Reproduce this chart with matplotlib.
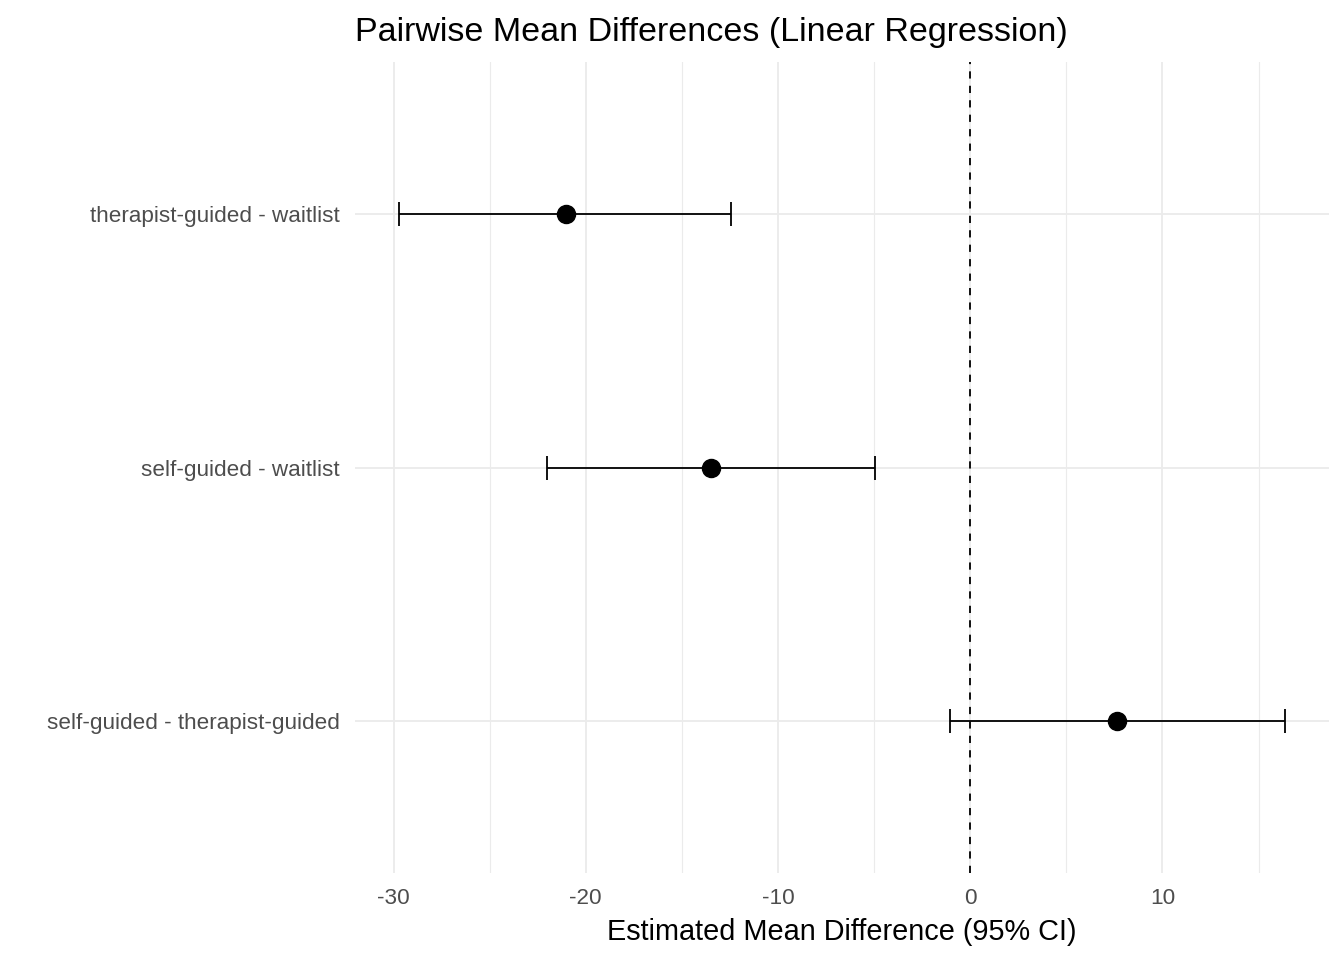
import matplotlib.pyplot as plt
import numpy as np

plt.rcParams['font.family'] = ['Liberation Sans', 'DejaVu Sans']

# comparisons, from bottom to top
contrasts = ['self-guided - therapist-guided', 'self-guided - waitlist', 'therapist-guided - waitlist']
estimate = [7.64, -13.51, -21.04]
ci_low = [-1.04, -22.03, -29.70]
ci_high = [16.36, -4.94, -12.42]

est = np.array(estimate)
lo = np.array(ci_low)
hi = np.array(ci_high)
ypos = np.arange(1, len(contrasts) + 1)

fig = plt.figure(figsize=(13.44, 9.6), dpi=100)
ax = fig.add_axes([355 / 1344, 1 - 873 / 960, (1329 - 355) / 1344, (873 - 62) / 960])

# ggplot-like limits with 5% / 0.6 expansion
xmin, xmax = lo.min(), hi.max()
pad = (xmax - xmin) * 0.05
ax.set_xlim(xmin - pad, xmax + pad)
ax.set_ylim(0.4, len(contrasts) + 0.6)

# grid like theme_minimal
for v in [-25, -15, -5, 5, 15]:
    ax.axvline(v, color='#EBEBEB', lw=0.8, zorder=0)
for v in [-30, -20, -10, 0, 10]:
    ax.axvline(v, color='#EBEBEB', lw=1.3, zorder=0)
for y in ypos:
    ax.axhline(y, color='#EBEBEB', lw=1.3, zorder=0)

ax.axvline(0, color='black', lw=1.3, ls=(0, (4, 4)), zorder=1)

ax.errorbar(est, ypos, xerr=[est - lo, hi - est], fmt='none', ecolor='black',
            elinewidth=1.3, capsize=8.6, capthick=1.3, zorder=2)
ax.plot(est, ypos, 'o', color='black', markersize=13, zorder=3)

ax.set_xticks([-30, -20, -10, 0, 10])
ax.set_xticklabels(['-30', '-20', '-10', '0', '10'])
ax.set_yticks(ypos)
ax.set_yticklabels(contrasts)
ax.tick_params(length=0, labelsize=16.2, labelcolor='#4D4D4D')
ax.tick_params(axis='x', pad=11)
ax.tick_params(axis='y', pad=10.8)
for s in ax.spines.values():
    s.set_visible(False)

ax.set_xlabel('Estimated Mean Difference (95% CI)', fontsize=20.8, labelpad=6)
fig.text(355 / 1344, 1 - 32 / 960, 'Pairwise Mean Differences (Linear Regression)',
         ha='left', va='center', fontsize=24.5)

fig.savefig('out.png', dpi=100)
